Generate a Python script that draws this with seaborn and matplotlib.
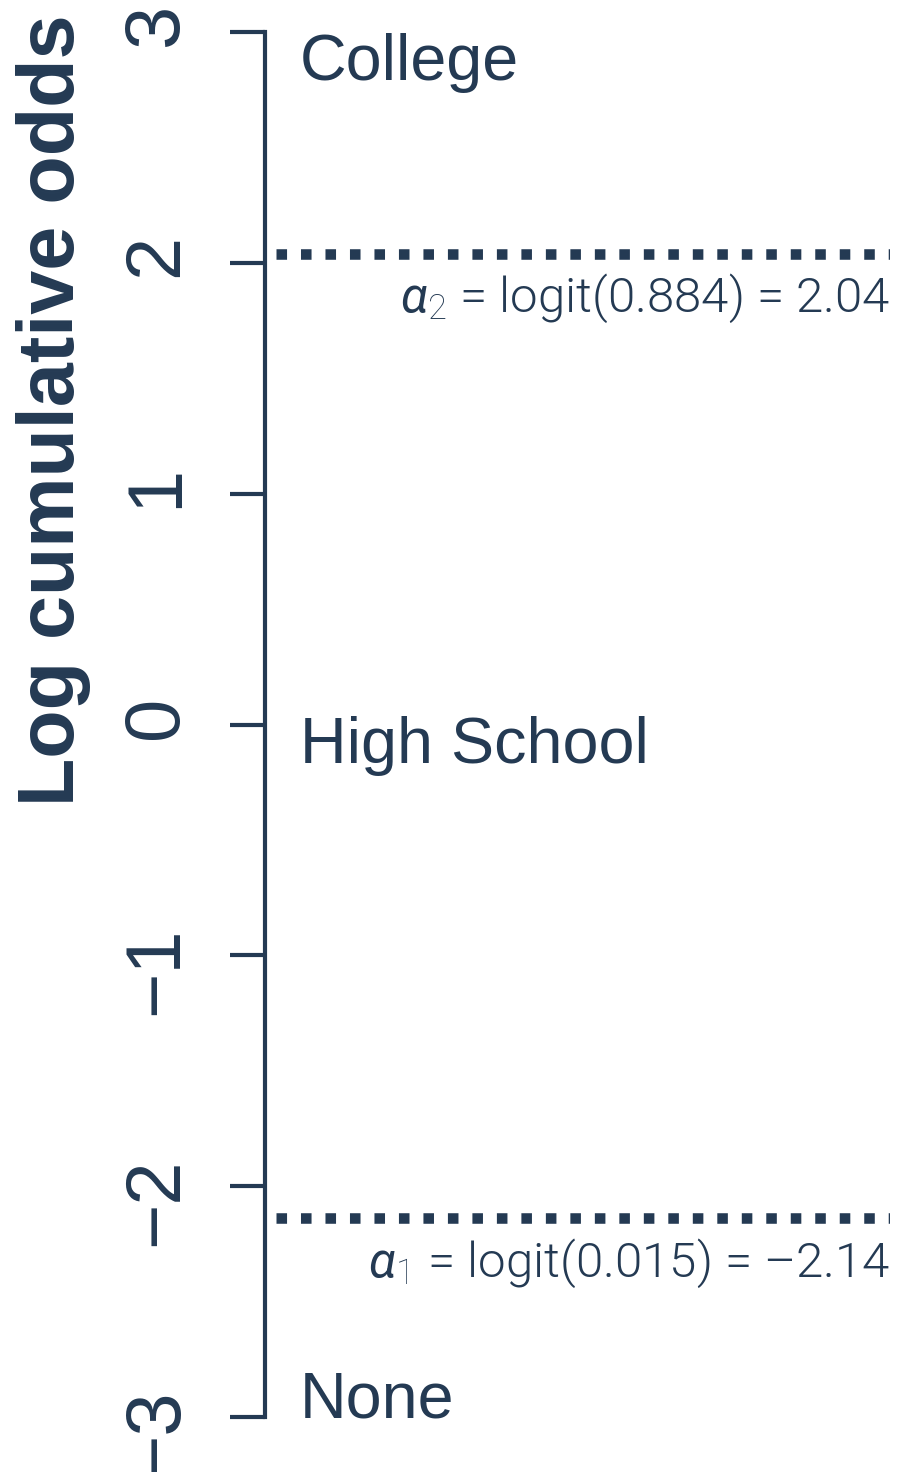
import numpy as np
import pandas as pd
import matplotlib
matplotlib.use("Agg")
import matplotlib.pyplot as plt
import seaborn as sns

# Outcome categories (lowest to highest) and the fitted cut points
categories = ["None", "High School", "College"]
cum_probs = [0.015, 0.884]
thresholds = [-2.14, 2.04]
threshold_names = [r"$\alpha_1$", r"$\alpha_2$"]
y_ticks = [-3, -2, -1, 0, 1, 2, 3]

INK = "#243a53"

sns.set_theme(style="white")
plt.rcParams["font.family"] = ["Liberation Sans", "DejaVu Sans"]
plt.rcParams["mathtext.fontset"] = "custom"
plt.rcParams["mathtext.it"] = "Roboto:italic"
plt.rcParams["mathtext.rm"] = "Roboto:light"

fig = plt.figure(figsize=(9.08, 14.72), dpi=100)
ax = fig.add_axes([265 / 908, 1 - 1417 / 1472, (890 - 265) / 908, (1417 - 32) / 1472])

# dotted cut-point lines
for a in thresholds:
    seg = pd.DataFrame({"x": [0.018, 1.0], "y": [a, a]})
    sns.lineplot(data=seg, x="x", y="y", ax=ax, color=INK, lw=7.6,
                 linestyle=(0, (1.0, 1.32)), dash_capstyle="butt")

ax.set_xlim(0, 1)
ax.set_ylim(-3, 3)
ax.set_yticks(y_ticks)
ax.set_yticklabels([f"{t}".replace("-", "\u2212") for t in y_ticks])
ax.set_xticks([])
ax.set_xlabel("")

for s in ["top", "right", "bottom"]:
    ax.spines[s].set_visible(False)
ax.spines["left"].set_color(INK)
ax.spines["left"].set_linewidth(3)
ax.tick_params(axis="y", direction="out", length=25, width=3, color=INK,
               labelsize=56, labelcolor=INK, labelrotation=90, pad=27, left=True)

ax.set_ylabel("Log cumulative odds", fontsize=57, fontweight="bold", color=INK,
              va="center", ha="center")
ax.yaxis.set_label_coords(-0.339, 0.7267)

# category labels in each region
cat_y = {"College": 2.79, "High School": -0.165, "None": -3.0}
for c in categories:
    ax.text(0.056, cat_y[c], c, fontsize=46.5, color=INK, ha="left", va="baseline")

# cut-point annotations
ann_offset = 0.252
for name, p, a in zip(threshold_names, cum_probs, thresholds):
    val = f"{a:.2f}".replace("-", "\u2013")
    ax.text(1.0, a - ann_offset, f"{name} = logit({p:.3f}) = {val}",
            fontsize=35.5, color=INK, ha="right", va="baseline",
            family="Roboto", fontweight=300)

fig.savefig("out.png", dpi=100)
